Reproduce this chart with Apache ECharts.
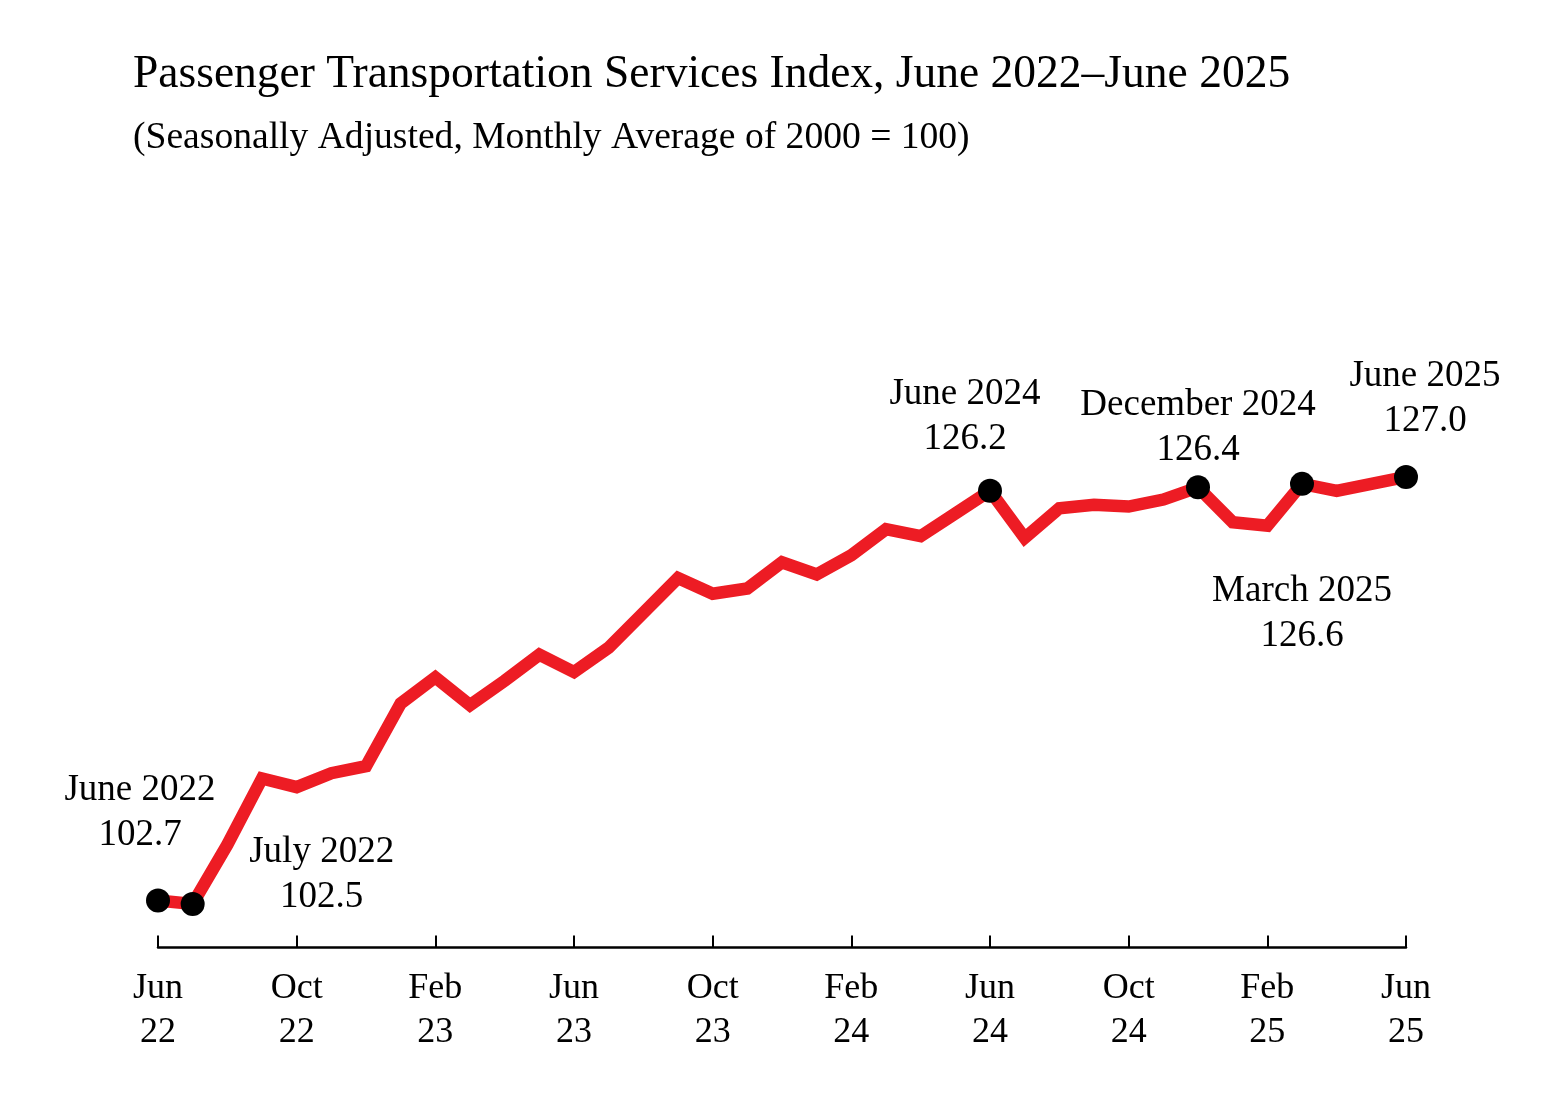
<!DOCTYPE html>
<html>
<head>
<meta charset="utf-8">
<title>Passenger Transportation Services Index</title>
<script src="https://cdn.jsdelivr.net/npm/echarts@6/dist/echarts.min.js"></script>
<style>
  html, body { margin: 0; padding: 0; background: #fff; }
  #chart { width: 1563px; height: 1097px; }
</style>
</head>
<body>
<div id="chart"></div>
<script>
// months Jun 2022 .. Jun 2025
var months = [
  'Jun 22', 'Jul 22', 'Aug 22', 'Sep 22', 'Oct 22', 'Nov 22', 'Dec 22',
  'Jan 23', 'Feb 23', 'Mar 23', 'Apr 23', 'May 23', 'Jun 23', 'Jul 23',
  'Aug 23', 'Sep 23', 'Oct 23', 'Nov 23', 'Dec 23', 'Jan 24', 'Feb 24',
  'Mar 24', 'Apr 24', 'May 24', 'Jun 24', 'Jul 24', 'Aug 24', 'Sep 24',
  'Oct 24', 'Nov 24', 'Dec 24', 'Jan 25', 'Feb 25', 'Mar 25', 'Apr 25',
  'May 25', 'Jun 25'
];
// index values
var tsiValues = [
  102.7, 102.5, 105.9, 109.7, 109.2, 110.0, 110.4,
  114.0, 115.5, 113.9, 115.3, 116.8, 115.8, 117.2,
  119.2, 121.2, 120.3, 120.6, 122.1, 121.4, 122.5,
  124.0, 123.6, 124.9, 126.2, 123.5, 125.2, 125.4,
  125.3, 125.7, 126.4, 124.4, 124.2, 126.6, 126.2,
  126.6, 127.0
];
// annotated points
var highlightIdx = [0, 1, 24, 30, 33, 36];
var highlightNames = ['June 2022', 'July 2022', 'June 2024', 'December 2024', 'March 2025', 'June 2025'];

var titleText = 'Passenger Transportation Services Index, June 2022\u2013June 2025';
var subText = '(Seasonally Adjusted, Monthly Average of 2000 = 100)';

// label placement (dx, dy from dot centre to label centre)
var labelOffsets = [[-18, -88], [129, -29], [-25, -74], [0, -60], [0, 130], [19, -78]];

var FONT = '"Liberation Serif", "Times New Roman", serif';
var RED = '#ED1C24';

var chart = echarts.init(document.getElementById('chart'));

var option = {
  backgroundColor: '#fff',
  animation: false,
  title: {
    text: titleText,
    subtext: subText,
    left: 133,
    top: 52,
    padding: 0,
    itemGap: 22,
    textStyle: {
      fontFamily: FONT, fontSize: 45.5, lineHeight: 46,
      fontWeight: 'normal', color: '#000'
    },
    subtextStyle: {
      fontFamily: FONT, fontSize: 37.6, lineHeight: 37, color: '#000'
    }
  },
  grid: {
    left: 158,
    right: 157,
    top: 424.6,
    bottom: 149.5,
    outerBoundsMode: 'none'
  },
  xAxis: {
    type: 'category',
    data: months,
    boundaryGap: false,
    axisLine: { lineStyle: { color: '#000', width: 2.5 } },
    axisTick: {
      inside: true,
      length: 12,
      interval: function(i) { return i % 4 === 0; },
      lineStyle: { color: '#000', width: 2 }
    },
    axisLabel: {
      interval: function(i) { return i % 4 === 0; },
      formatter: function(v) { return v.replace(' ', '\n'); },
      fontFamily: FONT,
      fontSize: 36,
      lineHeight: 44,
      color: '#000',
      margin: 19
    },
    splitLine: { show: false }
  },
  yAxis: {
    type: 'value',
    min: 100,
    max: 130,
    show: false
  },
  series: [
    {
      type: 'line',
      data: tsiValues,
      symbol: 'none',
      lineStyle: { color: RED, width: 12.5, join: 'miter' },
      z: 2
    },
    {
      type: 'scatter',
      symbol: 'circle',
      symbolSize: 24,
      itemStyle: { color: '#000', opacity: 1 },
      z: 3,
      data: highlightIdx.map(function(idx, k) {
        return {
          value: [idx, tsiValues[idx]],
          name: highlightNames[k],
          label: { offset: labelOffsets[k] }
        };
      }),
      label: {
        show: true,
        position: 'inside',
        formatter: function(p) {
          return p.name + '\n' + p.value[1].toFixed(1);
        },
        fontFamily: FONT,
        fontSize: 37,
        lineHeight: 45,
        align: 'center',
        color: '#000',
        opacity: 1
      },
      emphasis: { disabled: true }
    }
  ]
};

chart.setOption(option);
</script>
</body>
</html>
